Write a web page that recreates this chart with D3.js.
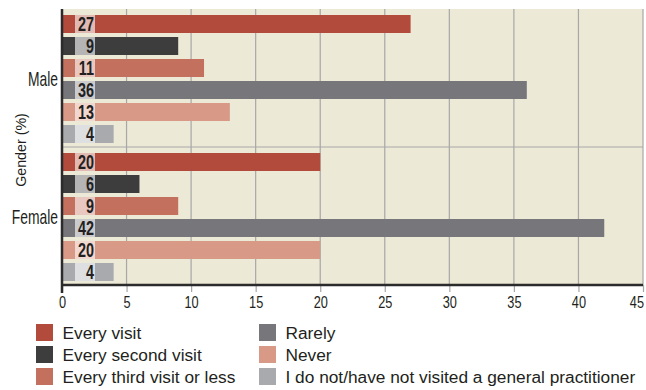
<!DOCTYPE html>
<html>
<head>
<meta charset="utf-8">
<script src="https://cdn.jsdelivr.net/npm/d3@7"></script>
<style>
  html, body { margin: 0; padding: 0; background: #ffffff; }
  svg { display: block; }
  text { font-family: "Liberation Sans", Arial, sans-serif; fill: #231f20; }
</style>
</head>
<body>
<svg id="chart" width="646" height="390"></svg>
<script>
// Gender groups and response categories
const genders = ["Male", "Female"];
const responses = [
  "Every visit",
  "Every second visit",
  "Every third visit or less",
  "Rarely",
  "Never",
  "I do not/have not visited a general practitioner"
];
const maleValues = [27, 9, 11, 36, 13, 4];
const femaleValues = [20, 6, 9, 42, 20, 4];
const xTicks = [0, 5, 10, 15, 20, 25, 30, 35, 40, 45];
const colors = ["#b34b3c", "#3d3d3d", "#c4705f", "#77777b", "#d89a87", "#a9aaad"];

const valuesByGender = { Male: maleValues, Female: femaleValues };

// Narrow a text run horizontally to a fraction of its natural width
function condense(sel, k) {
  sel.each(function () {
    const w = this.getComputedTextLength();
    d3.select(this).attr("textLength", w * k).attr("lengthAdjust", "spacingAndGlyphs");
  });
}

const svg = d3.select("#chart");
const plot = { left: 62, right: 643, top: 9, bottom: 285 };

const x = d3.scaleLinear().domain([0, 45]).range([plot.left, plot.right]);
const yGroup = d3.scaleBand().domain(genders).range([plot.top, plot.bottom]);
const yInner = d3.scaleBand().domain(responses)
  .range([6, yGroup.bandwidth() - 4])
  .paddingInner(4 / 22).paddingOuter(0);

// Plot background
svg.append("rect")
  .attr("x", plot.left).attr("y", plot.top)
  .attr("width", plot.right - plot.left).attr("height", plot.bottom - plot.top)
  .attr("fill", "#ece9d6");

// Vertical gridlines
svg.append("g").selectAll("line").data(xTicks.slice(1)).join("line")
  .attr("x1", d => x(d)).attr("x2", d => x(d))
  .attr("y1", plot.top).attr("y2", plot.bottom)
  .attr("stroke", "#a7a7a7").attr("stroke-width", 1.2);

// Horizontal gridline between the groups
svg.append("g").selectAll("line").data(genders.slice(1)).join("line")
  .attr("x1", plot.left).attr("x2", plot.right)
  .attr("y1", d => yGroup(d)).attr("y2", d => yGroup(d))
  .attr("stroke", "#a7a7a7").attr("stroke-width", 1.2);

// Bars
const groups = svg.append("g").selectAll("g").data(genders).join("g")
  .attr("transform", d => `translate(0,${yGroup(d)})`);

const rows = g => responses.map((r, i) => ({ r, i, v: valuesByGender[g][i] }));

groups.selectAll("rect.bar").data(rows).join("rect")
  .attr("class", "bar")
  .attr("x", x(0))
  .attr("y", d => yInner(d.r))
  .attr("width", d => x(d.v) - x(0))
  .attr("height", yInner.bandwidth())
  .attr("fill", d => colors[d.i]);

// Value label boxes
groups.selectAll("rect.lbl").data(rows).join("rect")
  .attr("class", "lbl")
  .attr("x", 75)
  .attr("y", d => yInner(d.r))
  .attr("width", 20)
  .attr("height", yInner.bandwidth())
  .attr("fill", "#ffffff")
  .attr("fill-opacity", 0.62);

groups.selectAll("text.val").data(rows).join("text")
  .attr("class", "val")
  .attr("x", 94)
  .attr("y", d => yInner(d.r) + yInner.bandwidth() / 2)
  .attr("dy", "0.36em")
  .attr("text-anchor", "end")
  .attr("font-size", 20)
  .attr("font-weight", "bold")
  .attr("fill", "#231f20")
  .text(d => d.v)
  .call(condense, 0.72);

// Axes
const tickSquash = 0.75;
const xAxis = d3.axisBottom(x).tickValues(xTicks).tickSize(7).tickPadding(4);
const gx = svg.append("g").attr("transform", `translate(0,${plot.bottom})`).call(xAxis);
gx.attr("font-family", null).attr("font-size", null);
gx.select(".domain").remove();
gx.selectAll(".tick line").attr("stroke", "#a7a7a7").attr("stroke-width", 1.2);
gx.selectAll(".tick text").attr("font-size", 17).attr("fill", "#231f20")
  .attr("transform", `scale(${tickSquash},1)`);
gx.selectAll(".tick text").filter(d => d === 45)
  .attr("text-anchor", "end").attr("x", 0.5 / tickSquash);

svg.append("line")
  .attr("x1", plot.left - 1).attr("x2", plot.right)
  .attr("y1", plot.bottom).attr("y2", plot.bottom)
  .attr("stroke", "#2b2b2b").attr("stroke-width", 2.5);
svg.append("line")
  .attr("x1", plot.left).attr("x2", plot.left)
  .attr("y1", plot.top).attr("y2", plot.bottom + 8)
  .attr("stroke", "#2b2b2b").attr("stroke-width", 2.5);

// Group labels
svg.append("g").selectAll("text").data(genders).join("text")
  .attr("x", 58)
  .attr("y", d => yGroup(d) + yGroup.bandwidth() / 2)
  .attr("dy", "0.36em")
  .attr("text-anchor", "end")
  .attr("font-size", 21)
  .text(d => d)
  .call(condense, 0.66);

svg.append("text")
  .attr("transform", `translate(20,${(plot.top + plot.bottom) / 2 + 3}) rotate(-90)`)
  .attr("text-anchor", "middle")
  .attr("dy", "0.36em")
  .attr("font-size", 15.5)
  .text("Gender (%)")
  .call(condense, 0.92);

// Legend in two columns of three
const legend = svg.append("g").selectAll("g").data(responses).join("g")
  .attr("transform", (d, i) => `translate(${i < 3 ? 36 : 259},${324 + (i % 3) * 22})`);
legend.append("rect")
  .attr("width", 17).attr("height", 17)
  .attr("fill", (d, i) => colors[i]);
legend.append("text")
  .attr("x", 26.5).attr("y", 8.5).attr("dy", "0.36em")
  .attr("font-size", 17.3)
  .text(d => d);
</script>
</body>
</html>
